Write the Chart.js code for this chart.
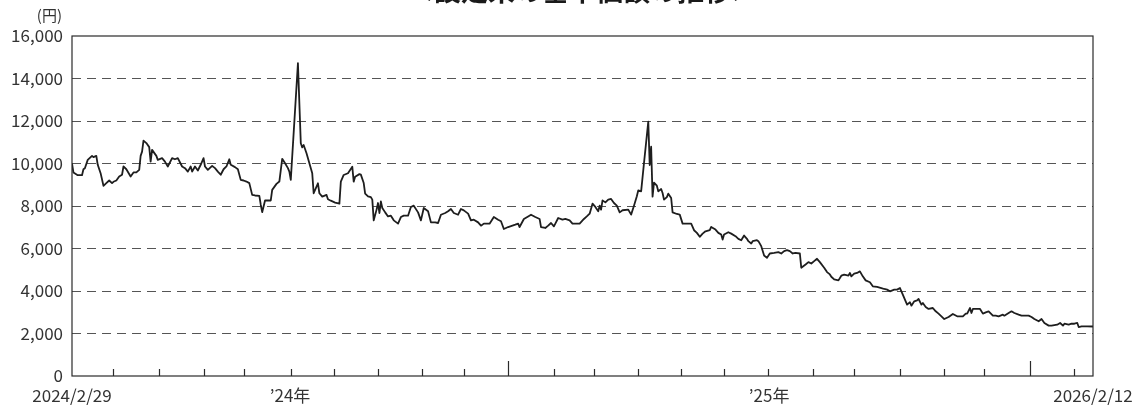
<!DOCTYPE html>
<html><head><meta charset="utf-8">
<script src="https://cdn.jsdelivr.net/npm/chart.js@4"></script>
<style>html,body{margin:0;padding:0;background:#fff;overflow:hidden}#wrap{width:1148px;height:405px;position:relative}</style>
</head><body><div id="wrap"><canvas id="c"></canvas></div>
<script>
const chartTitle = '＜設定来の基準価額の推移＞';
const unitLabel = '(円)';
const dates = [
'2024-02-29','2024-03-01','2024-03-04','2024-03-07','2024-03-08','2024-03-09','2024-03-11','2024-03-14','2024-03-15','2024-03-17','2024-03-18','2024-03-20','2024-03-22','2024-03-24','2024-03-26','2024-03-28','2024-03-29','2024-03-31',
'2024-04-02','2024-04-04','2024-04-05','2024-04-07','2024-04-10','2024-04-12','2024-04-14','2024-04-16','2024-04-17','2024-04-18','2024-04-19','2024-04-21','2024-04-23','2024-04-24','2024-04-25','2024-04-28','2024-04-29',
'2024-05-02','2024-05-04','2024-05-06','2024-05-09','2024-05-11','2024-05-13','2024-05-16','2024-05-18','2024-05-20','2024-05-22','2024-05-23','2024-05-25','2024-05-27','2024-05-29','2024-05-31',
'2024-06-01','2024-06-03','2024-06-06','2024-06-08','2024-06-10','2024-06-12','2024-06-14','2024-06-16','2024-06-18','2024-06-19','2024-06-22','2024-06-24','2024-06-26','2024-06-28','2024-06-30',
'2024-07-02','2024-07-04','2024-07-06','2024-07-09','2024-07-10','2024-07-11','2024-07-13','2024-07-16','2024-07-17','2024-07-18','2024-07-21','2024-07-23','2024-07-25','2024-07-27','2024-07-29','2024-07-30','2024-07-31',
'2024-08-05','2024-08-07','2024-08-08','2024-08-09','2024-08-11','2024-08-13','2024-08-15','2024-08-16','2024-08-18','2024-08-19','2024-08-20','2024-08-22','2024-08-25','2024-08-26','2024-08-28','2024-08-31',
'2024-09-03','2024-09-04','2024-09-06','2024-09-09','2024-09-12','2024-09-13','2024-09-14','2024-09-17','2024-09-18','2024-09-20','2024-09-21','2024-09-23','2024-09-25','2024-09-26','2024-09-27','2024-09-29','2024-09-30',
'2024-10-01','2024-10-02','2024-10-03','2024-10-05','2024-10-07','2024-10-09','2024-10-11','2024-10-14','2024-10-16','2024-10-18','2024-10-21','2024-10-23','2024-10-25','2024-10-28','2024-10-30',
'2024-11-01','2024-11-04','2024-11-06','2024-11-09','2024-11-11','2024-11-13','2024-11-16','2024-11-18','2024-11-20','2024-11-22','2024-11-25','2024-11-27','2024-11-29',
'2024-12-02','2024-12-04','2024-12-06','2024-12-09','2024-12-11','2024-12-13','2024-12-17','2024-12-20','2024-12-23','2024-12-25','2024-12-27','2024-12-30',
'2025-01-02','2025-01-04','2025-01-06','2025-01-07','2025-01-10','2025-01-13','2025-01-15','2025-01-18','2025-01-21','2025-01-22','2025-01-25','2025-01-27','2025-01-29','2025-01-31',
'2025-02-01','2025-02-03','2025-02-06','2025-02-08','2025-02-11','2025-02-13','2025-02-15','2025-02-18','2025-02-21','2025-02-23','2025-02-25','2025-02-27',
'2025-03-01','2025-03-03','2025-03-04','2025-03-05','2025-03-06','2025-03-08','2025-03-10','2025-03-12','2025-03-14','2025-03-16','2025-03-18','2025-03-20','2025-03-24','2025-03-26','2025-03-28','2025-03-30','2025-03-31',
'2025-04-02','2025-04-04','2025-04-07','2025-04-08','2025-04-09','2025-04-10','2025-04-11','2025-04-13','2025-04-14','2025-04-16','2025-04-17','2025-04-18','2025-04-20','2025-04-21','2025-04-23','2025-04-24','2025-04-27','2025-04-29',
'2025-05-01','2025-05-04','2025-05-07','2025-05-09','2025-05-11','2025-05-13','2025-05-15','2025-05-17','2025-05-20','2025-05-21','2025-05-24','2025-05-26','2025-05-28','2025-05-29','2025-05-30',
'2025-06-02','2025-06-04','2025-06-07','2025-06-09','2025-06-11','2025-06-13','2025-06-15','2025-06-16','2025-06-18','2025-06-19','2025-06-22','2025-06-23','2025-06-25','2025-06-27','2025-06-29',
'2025-07-01','2025-07-04','2025-07-07','2025-07-09','2025-07-11','2025-07-13','2025-07-15','2025-07-17','2025-07-19','2025-07-22','2025-07-23','2025-07-26','2025-07-28','2025-07-30',
'2025-08-01','2025-08-03','2025-08-05','2025-08-08','2025-08-10','2025-08-12','2025-08-13','2025-08-15','2025-08-18','2025-08-20','2025-08-22','2025-08-25','2025-08-26','2025-08-27','2025-08-29','2025-08-31',
'2025-09-02','2025-09-04','2025-09-06','2025-09-09','2025-09-11','2025-09-14','2025-09-17','2025-09-19','2025-09-21','2025-09-23','2025-09-26','2025-09-28','2025-09-30',
'2025-10-02','2025-10-04','2025-10-05','2025-10-07','2025-10-08','2025-10-10','2025-10-12','2025-10-13','2025-10-15','2025-10-16','2025-10-18','2025-10-20','2025-10-23','2025-10-25','2025-10-27','2025-10-29','2025-10-31',
'2025-11-03','2025-11-06','2025-11-09','2025-11-11','2025-11-13','2025-11-15','2025-11-16','2025-11-18','2025-11-19','2025-11-20','2025-11-23','2025-11-25','2025-11-27','2025-11-29',
'2025-12-01','2025-12-04','2025-12-06','2025-12-08','2025-12-11','2025-12-12','2025-12-15','2025-12-17','2025-12-19','2025-12-22','2025-12-24','2025-12-26','2025-12-29','2025-12-31',
'2026-01-02','2026-01-05','2026-01-07','2026-01-09','2026-01-12','2026-01-14','2026-01-18','2026-01-20','2026-01-22','2026-01-23','2026-01-26','2026-01-28','2026-01-30',
'2026-02-01','2026-02-02','2026-02-04','2026-02-08','2026-02-12'
];
const navValues = [
10000,9580,9450,9450,9730,9780,10170,10360,10300,10360,9940,9545,8950,9075,9200,9075,9140,9200,
9390,9470,9860,9730,9390,9580,9580,9700,10360,10560,11080,10960,10770,10090,10640,10360,10170,
10250,10090,9860,10250,10200,10250,9860,9780,9620,9860,9620,9860,9670,9940,10250,
9860,9700,9890,9780,9620,9470,9730,9860,10200,9940,9830,9730,9230,9200,9150,
9075,8525,8495,8480,8060,7710,8260,8260,8260,8760,9040,9150,10220,10015,9780,9620,9230,
14720,10950,10760,10870,10480,10010,9540,8600,8910,9070,8600,8440,8520,8315,8250,8160,
8110,9145,9460,9540,9850,9145,9380,9500,9475,9080,8580,8455,8420,8300,7325,7830,8140,
7670,8220,7905,7700,7510,7545,7325,7170,7480,7545,7545,7950,8015,7700,7325,
7905,7750,7230,7230,7200,7590,7670,7750,7860,7670,7590,7860,7795,
7640,7325,7355,7230,7075,7170,7170,7480,7355,7280,6920,7010,
7075,7120,7170,7010,7390,7510,7590,7480,7390,7010,6965,7075,7200,7040,
7170,7435,7355,7390,7325,7170,7170,7170,7390,7510,7640,8110,
7955,7750,8015,7830,8265,8170,8300,8330,8140,8015,7700,7800,7830,7595,8015,8455,8735,
8690,10015,11970,9930,10790,8440,9100,8955,8690,8800,8610,8300,8420,8580,8375,7700,7625,7595,
7170,7170,7170,6860,6735,6550,6700,6810,6860,7015,6890,6735,6655,6420,6655,
6765,6700,6580,6455,6390,6610,6455,6345,6235,6345,6390,6345,6110,5670,5560,
5765,5795,5830,5765,5875,5920,5875,5765,5795,5765,5095,5250,5360,5295,
5405,5515,5360,5095,4890,4780,4670,4545,4500,4720,4770,4720,4850,4690,4815,4850,
4925,4690,4500,4410,4220,4190,4140,4095,4065,3985,4065,4065,4140,
3830,3515,3360,3470,3310,3515,3560,3625,3360,3435,3250,3155,3200,3045,2935,2810,2680,
2775,2920,2810,2810,2810,2935,2935,3200,2965,3155,3155,3155,2935,2995,
3045,2840,2840,2810,2885,2840,2965,3045,2965,2885,2840,2840,2840,2775,
2680,2575,2680,2495,2370,2370,2415,2495,2370,2460,2415,2460,2460,
2495,2305,2335,2335,2330
];
const yTicks = [0,2000,4000,6000,8000,10000,12000,14000,16000];
const xLabels = ['2024/2/29','’24年','’25年','2026/2/12'];
const monthEndTicks = ['2024-03-29','2024-04-30','2024-05-31','2024-06-28','2024-07-31','2024-08-30','2024-09-30','2024-10-31','2024-11-29',
'2025-01-31','2025-02-28','2025-03-31','2025-04-30','2025-05-30','2025-06-30','2025-07-31','2025-08-29','2025-09-30','2025-10-31','2025-11-28','2026-01-30'];
const yearEndTicks = ['2024-12-30','2025-12-30'];

const toUTC = s => Date.UTC(+s.slice(0,4), +s.slice(5,7)-1, +s.slice(8,10));
const base = toUTC(dates[0]);
const dayOf = s => (toUTC(s) - base) / 86400000;
const firstDay = dayOf(dates[0]);
const lastDay = dayOf(dates[dates.length-1]);
const yEnds = yearEndTicks.map(dayOf);
const labelPos = [firstDay, (firstDay + yEnds[0]) / 2, (yEnds[0] + yEnds[1]) / 2, lastDay];
const points = dates.map((d, i) => ({x: dayOf(d), y: navValues[i]}));

const FONT = "'Noto Sans CJK JP', 'Noto Sans', sans-serif";
Chart.defaults.font.family = FONT;

const decor = {
  id: 'decor',
  afterDraw(chart) {
    const {ctx, chartArea: a, scales: {x}} = chart;
    ctx.save();
    ctx.strokeStyle = '#2a2a2a';
    ctx.lineWidth = 1.2;
    ctx.strokeRect(a.left, a.top, a.right - a.left, a.bottom - a.top);
    ctx.beginPath();
    monthEndTicks.forEach(s => {
      const px = Math.round(x.getPixelForValue(dayOf(s))) + 0.5;
      ctx.moveTo(px, a.bottom); ctx.lineTo(px, a.bottom - 7);
    });
    yearEndTicks.forEach(s => {
      const px = Math.round(x.getPixelForValue(dayOf(s))) + 0.5;
      ctx.moveTo(px, a.bottom); ctx.lineTo(px, a.bottom - 15);
    });
    ctx.stroke();
    ctx.fillStyle = '#1a1a1a';
    ctx.font = "bold 27px " + FONT;
    ctx.textAlign = 'center';
    ctx.textBaseline = 'alphabetic';
    ctx.fillText(chartTitle, (a.left + a.right) / 2, 1);
    ctx.fillStyle = '#333';
    ctx.font = "15px " + FONT;
    ctx.textAlign = 'right';
    ctx.textBaseline = 'middle';
    ctx.fillText(unitLabel, a.left - 10, 15);
    ctx.restore();
  }
};

new Chart(document.getElementById('c'), {
  type: 'line',
  data: {
    datasets: [{
      data: points,
      borderColor: '#1e1e1e',
      borderWidth: 1.8,
      borderJoinStyle: 'round',
      pointRadius: 0,
      tension: 0,
      fill: false
    }]
  },
  options: {
    responsive: true,
    maintainAspectRatio: false,
    animation: false,
    devicePixelRatio: 1,
    layout: {padding: {left: 0, right: 55, top: 36, bottom: 0}},
    plugins: {legend: {display: false}, tooltip: {enabled: false}, title: {display: false}},
    scales: {
      x: {
        type: 'linear',
        min: firstDay,
        max: lastDay,
        grid: {display: false, drawTicks: false},
        border: {display: false},
        afterBuildTicks: s => { s.ticks = labelPos.map(v => ({value: v})); },
        afterFit: s => { s.height = 29; },
        ticks: {
          autoSkip: false, maxRotation: 0, padding: 9,
          color: '#333', font: {size: 17},
          callback: (v, i) => xLabels[i]
        }
      },
      y: {
        min: 0, max: 16000,
        afterBuildTicks: s => { s.ticks = yTicks.map(v => ({value: v})); },
        afterFit: s => { s.width = 72; },
        grid: {
          drawTicks: false,
          color: c => (c.tick && (c.tick.value === 0 || c.tick.value === 16000)) ? 'rgba(0,0,0,0)' : '#555',
          lineWidth: 1
        },
        border: {display: false, dash: [9, 6]},
        ticks: {
          padding: 9, color: '#333', font: {size: 17},
          callback: v => v.toLocaleString('en-US')
        }
      }
    }
  },
  plugins: [decor]
});
</script>
</body></html>
